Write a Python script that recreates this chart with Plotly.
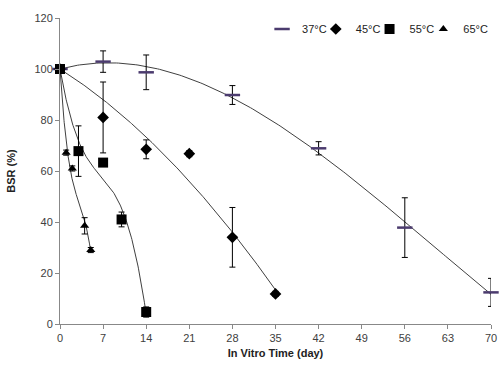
import numpy as np
import plotly.graph_objects as go

# Data
days_37 = [0, 7, 14, 28, 42, 56, 70]
bsr_37 = [100, 102.9, 98.7, 89.8, 68.9, 37.8, 12.4]
err_37 = [0, 4.2, 6.8, 3.7, 2.6, 11.7, 5.5]

days_45 = [0, 7, 14, 21, 28, 35]
bsr_45 = [100, 81, 68.5, 66.8, 34, 11.8]
err_45 = [0, 13.9, 3.7, 1.2, 11.7, 1.0]

days_55 = [0, 3, 7, 10, 14]
bsr_55 = [100, 67.8, 63.3, 41, 4.7]
err_55 = [0, 9.9, 1.0, 2.9, 2.0]

days_65 = [0, 1, 2, 4, 5]
bsr_65 = [100, 67.2, 61, 38.5, 29]
err_65 = [0, 1.0, 1.0, 3.2, 1.0]

x_ticks = [0, 7, 14, 21, 28, 35, 42, 49, 56, 63, 70]
y_ticks = [0, 20, 40, 60, 80, 100, 120]

series = [
    ("37°C", days_37, bsr_37, err_37, 3, dict(symbol="line-ew", size=11, color="#4B3B6E", line=dict(width=2.5, color="#4B3B6E"))),
    ("45°C", days_45, bsr_45, err_45, 2, dict(symbol="diamond", size=9, color="black")),
    ("55°C", days_55, bsr_55, err_55, 3, dict(symbol="square", size=10, color="black")),
    ("65°C", days_65, bsr_65, err_65, 3, dict(symbol="triangle-up", size=8, color="black")),
]
legend_ids = ["legend", "legend2", "legend3", "legend4"]
legend_x = [0.4688, 0.5935, 0.7182, 0.8430]


def trend(xs, ys, deg, y0):
    """Polynomial trend line with intercept fixed at the day-0 value."""
    x = np.asarray(xs, float)
    y = np.asarray(ys, float) - y0
    A = np.vstack([x ** k for k in range(1, deg + 1)]).T
    c, *_ = np.linalg.lstsq(A, y, rcond=None)
    xf = np.linspace(x.min(), x.max(), 200)
    yf = y0 + sum(c[k - 1] * xf ** k for k in range(1, deg + 1))
    return xf, yf


fig = go.Figure()

for name, xs, ys, es, deg, mk in series:
    xf, yf = trend(xs, ys, deg, ys[0])
    fig.add_trace(go.Scatter(x=xf, y=yf, mode="lines",
                             line=dict(color="#404040", width=1),
                             showlegend=False, hoverinfo="skip", cliponaxis=False))

for (name, xs, ys, es, deg, mk), lg in zip(series, legend_ids):
    fig.add_trace(go.Scatter(
        x=xs, y=ys, mode="markers", name=name, marker=mk, legend=lg,
        error_y=dict(type="data", array=es, visible=True, color="black", thickness=1, width=3),
        cliponaxis=False))

legend_style = dict(orientation="h", xanchor="left", y=0.964, yanchor="middle",
                    font=dict(size=11, color="#222222"), itemwidth=30,
                    bgcolor="rgba(0,0,0,0)")

fig.update_layout(
    width=500, height=369,
    margin=dict(l=60, r=7, t=18, b=45),
    paper_bgcolor="white", plot_bgcolor="white",
    font=dict(family="Arial, Liberation Sans, sans-serif", size=11, color="#404040"),
    showlegend=True,
    xaxis=dict(range=[0, 70], tickvals=x_ticks, ticktext=[str(v) for v in x_ticks],
               showgrid=False, zeroline=False, showline=True, linecolor="#888888", linewidth=1,
               ticks="outside", ticklen=4, tickcolor="#888888", automargin=False,
               ticklabeloverflow="allow",
               title=dict(text="<b>In Vitro Time (day)</b>", font=dict(size=11, color="#222222"), standoff=6)),
    yaxis=dict(range=[0, 120], tickvals=y_ticks,
               showgrid=False, zeroline=False, showline=True, linecolor="#888888", linewidth=1,
               ticks="outside", ticklen=4, tickcolor="#888888", automargin=False,
               title=dict(text="<b>BSR (%)</b>", font=dict(size=11, color="#222222"), standoff=16)),
)
for lg, lx in zip(legend_ids, legend_x):
    fig.update_layout({lg: dict(x=lx, **legend_style)})

fig.write_html("out.html", config={"displayModeBar": False},
               post_script="document.body.style.margin='0';")
